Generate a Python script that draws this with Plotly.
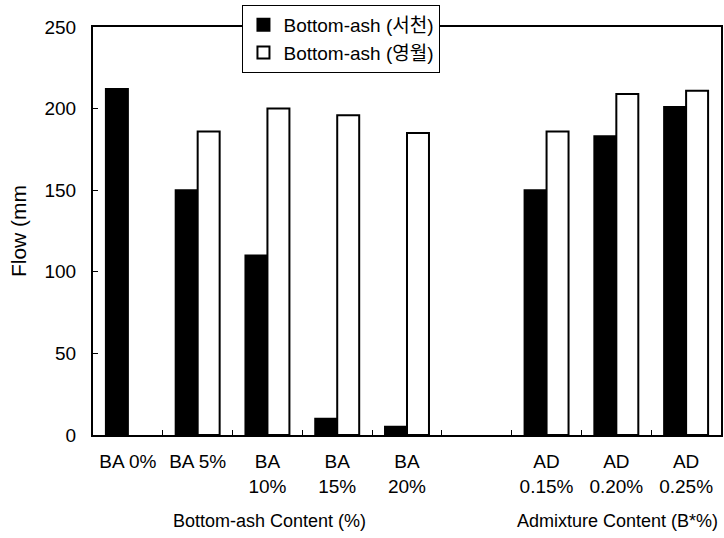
import plotly.graph_objects as go

categories = ["BA 0%", "BA 5%", "BA<br>10%", "BA<br>15%", "BA<br>20%", " ",
              "AD<br>0.15%", "AD<br>0.20%", "AD<br>0.25%"]
seocheon = [212, 150, 110, 10, 5, None, 150, 183, 201]
yeongwol = [None, 186, 200, 196, 185, None, 186, 209, 211]
series_names = ["Bottom-ash (서천)", "Bottom-ash (영월)"]
y_ticks = [0, 50, 100, 150, 200, 250]

FONT = "Liberation Sans, Arial, Noto Sans CJK KR"

fig = go.Figure()
fig.add_trace(go.Bar(x=categories, y=seocheon, name=series_names[0],
                     marker=dict(color="black", line=dict(color="black", width=2))))
fig.add_trace(go.Bar(x=categories, y=yeongwol, name=series_names[1],
                     marker=dict(color="white", line=dict(color="black", width=2))))

fig.update_layout(
    width=724, height=538,
    margin=dict(l=93, r=3, t=27, b=103, autoexpand=False),
    paper_bgcolor="white", plot_bgcolor="white",
    barmode="group", bargap=0.37, bargroupgap=0,
    font=dict(family=FONT, size=18, color="black"),
    legend=dict(x=0.238, y=1.054, xanchor="left", yanchor="top",
                bgcolor="white", bordercolor="black", borderwidth=1,
                font=dict(family=FONT, size=19), tracegroupgap=0,
                itemwidth=30, itemsizing="constant"),
    showlegend=True,
)
fig.update_xaxes(
    type="category", categoryorder="array", categoryarray=categories,
    range=[-0.5, 8.5],
    showline=True, linecolor="black", linewidth=2, mirror=True,
    ticks="inside", tickson="boundaries", ticklen=5, tickcolor="black",
    showgrid=False, tickfont=dict(size=19), ticklabelstandoff=8,
)
fig.update_yaxes(
    range=[0, 250], tickvals=y_ticks,
    showline=True, linecolor="black", linewidth=2, mirror=True,
    ticks="inside", ticklen=5, tickcolor="black",
    showgrid=False, zeroline=False, tickfont=dict(size=19),
    ticklabelstandoff=11,
    title=dict(text="Flow (mm", font=dict(size=21), standoff=12),
)
fig.add_annotation(text="Bottom-ash Content (%)", xref="paper", yref="paper",
                   x=0.281, y=-0.21, xanchor="center", yanchor="middle",
                   showarrow=False, font=dict(size=18))
fig.add_annotation(text="Admixture Content (B*%)", xref="paper", yref="paper",
                   x=0.998, y=-0.21, xanchor="right", yanchor="middle",
                   showarrow=False, font=dict(size=18))

fig.write_html("out.html", config={"displayModeBar": False},
               post_script="document.body.style.margin='0';document.body.style.overflow='hidden';")
